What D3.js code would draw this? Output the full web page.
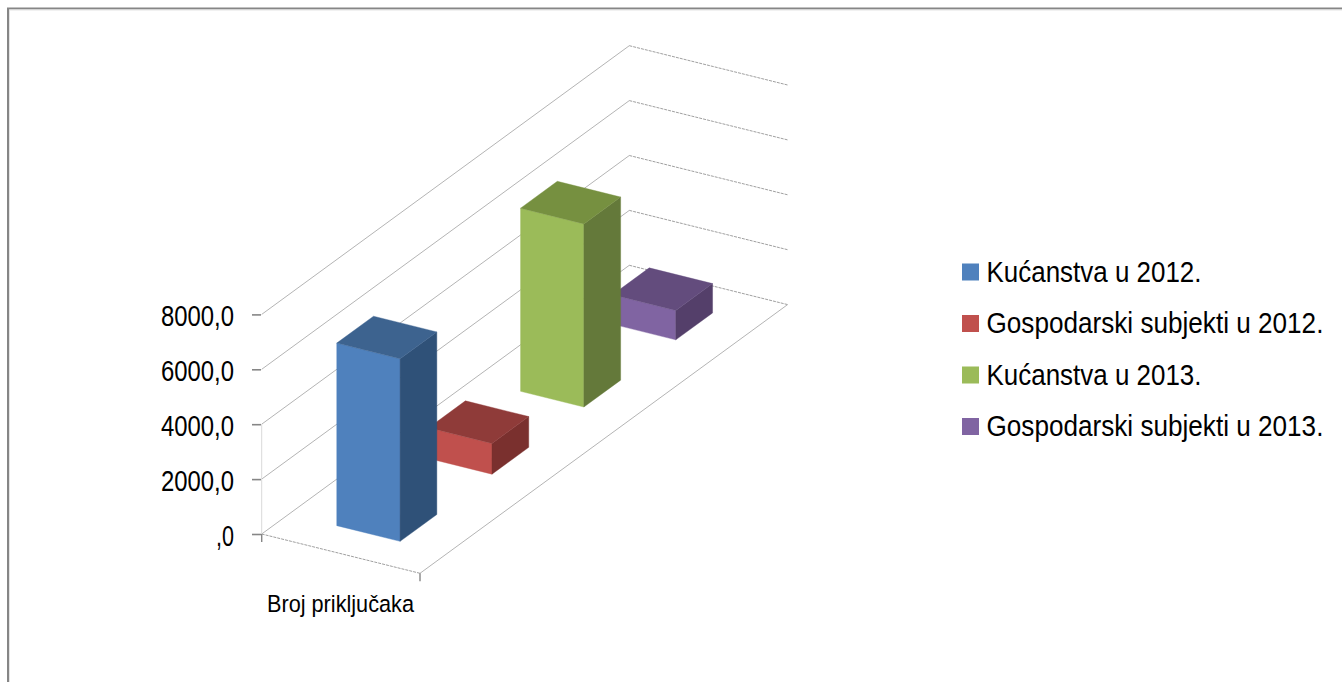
<!DOCTYPE html>
<html><head><meta charset="utf-8">
<script src="https://cdn.jsdelivr.net/npm/d3@7"></script>
<style>html,body{margin:0;padding:0;background:#fff;overflow:hidden}svg{display:block}text{font-family:"Liberation Sans",Arial,sans-serif;fill:#000}</style>
</head><body><svg id="c" width="1342" height="682"></svg>
<script>
const categories = ["Broj priključaka"];
const seriesNames = ["Kućanstva u 2012.", "Gospodarski subjekti u 2012.", "Kućanstva u 2013.", "Gospodarski subjekti u 2013."];
const seriesValues = [6650, 1120, 6670, 1070];
const tickValues = [0, 2000, 4000, 6000, 8000];
const tickLabels = [",0", "2000,0", "4000,0", "6000,0", "8000,0"];
const frontColors = ["#4F81BD", "#C0504D", "#9BBB59", "#8064A2"];
const topColors = ["#3D638F", "#8F3B39", "#769040", "#634C7D"];
const sideColors = ["#2F5178", "#7A302E", "#64793A", "#543F6A"];

const svg = d3.select("#c");
const O = [261.7, 534], W = [158.3, 39.3], D = [367.6, -268.7];
const yAxisScale = d3.scaleLinear().domain([0, 8000]).range([534, 314.4]);
const h = v => 534 - yAxisScale(v);
const uScale = d3.scaleBand().domain(categories).range([0, 1]).paddingInner(.6).paddingOuter(.3);
const vScale = d3.scaleBand().domain(seriesNames).range([0, 1]).paddingInner(.6).paddingOuter(.3);
const P = (u, v, val) => [O[0] + u * W[0] + v * D[0], O[1] + u * W[1] + v * D[1] - h(val)];
const line = d3.line();

// squeeze a text horizontally to a given width, anchored at its left edge
function fit(sel, x, y, width) {
  const n = sel.node().getComputedTextLength();
  sel.attr("x", 0).attr("y", 0).attr("dy", null).attr("text-anchor", "start")
     .attr("transform", `translate(${x},${y}) scale(${width / n},1)`);
}

// chart frame
svg.append("path").attr("d", "M8,682V8.5H1342").attr("fill", "none").attr("stroke", "#868686").attr("stroke-width", 2);
svg.append("path").attr("d", "M9.5,682V10H1342").attr("fill", "none").attr("stroke", "#e4e4e4").attr("stroke-width", 1);

// walls and floor
const grid = svg.append("g").attr("fill", "none");
tickValues.forEach(t => {
  grid.append("path").attr("d", line([P(0, 0, t), P(0, 1, t)])).attr("stroke", "#b4b4b4").attr("stroke-width", 1);
  grid.append("path").attr("d", line([P(0, 1, t), P(1, 1, t)])).attr("stroke", "#a0a0a0").attr("stroke-width", 1).attr("stroke-dasharray", "3 1");
});
grid.append("path").attr("d", line([P(0, 0, 0), P(1, 0, 0)])).attr("stroke", "#a0a0a0").attr("stroke-dasharray", "3 1");
grid.append("path").attr("d", line([P(1, 0, 0), P(1, 1, 0)])).attr("stroke", "#b4b4b4");
grid.append("path").attr("d", line([P(0, 0, 0), P(0, 0, 4000)])).attr("stroke", "#d9d9d9");

// y axis
const axis = svg.append("g").attr("transform", "translate(261,0)")
  .call(d3.axisLeft(yAxisScale).tickValues(tickValues).tickFormat((d, i) => tickLabels[i]).tickSize(9).tickSizeOuter(0).tickPadding(17));
axis.select(".domain").remove();
axis.selectAll("line").attr("stroke", "#868686").attr("stroke-width", 1.6);
axis.selectAll("text").attr("font-size", 30).attr("font-family", '"Liberation Sans"').attr("fill", "#000")
  .each(function (d, i) {
    const w = tickLabels[i].length > 2 ? 73 : 18;
    fit(d3.select(this), -27 - w, 11, w);
  });

// category ticks and label
[0, 1].forEach(u => {
  const p = P(u, 0, 0);
  svg.append("path").attr("d", line([p, [p[0], p[1] + 8]])).attr("stroke", "#868686").attr("stroke-width", 1.4);
});
svg.append("text").attr("font-size", 24.5).text(categories[0]).call(fit, 267, 612, 147);

// bars, painted back to front
const order = d3.range(seriesNames.length).reverse();
const bars = svg.selectAll("g.bar").data(order).join("g").attr("class", "bar");
bars.each(function (i) {
  const g = d3.select(this), val = seriesValues[i], name = seriesNames[i];
  const u0 = uScale(categories[0]), u1 = u0 + uScale.bandwidth();
  const v0 = vScale(name), v1 = v0 + vScale.bandwidth();
  const face = (pts, c) => g.append("path").attr("d", line(pts) + "Z").attr("fill", c).attr("stroke", c).attr("stroke-width", .4);
  face([P(u0, v0, 0), P(u1, v0, 0), P(u1, v0, val), P(u0, v0, val)], frontColors[i]);
  face([P(u1, v0, 0), P(u1, v1, 0), P(u1, v1, val), P(u1, v0, val)], sideColors[i]);
  face([P(u0, v0, val), P(u1, v0, val), P(u1, v1, val), P(u0, v1, val)], topColors[i]);
});

// legend
const legendY = [281.5, 333, 384.5, 436];
const legendW = [215, 337, 215, 337];
const legend = svg.selectAll("g.leg").data(seriesNames).join("g").attr("class", "leg");
legend.append("rect").attr("x", 962).attr("y", (d, i) => legendY[i] - 18).attr("width", 17).attr("height", 17).attr("fill", (d, i) => frontColors[i]);
legend.append("text").attr("font-size", 30).text(d => d)
  .each(function (d, i) { fit(d3.select(this), 986.5, legendY[i], legendW[i]); });
</script></body></html>
